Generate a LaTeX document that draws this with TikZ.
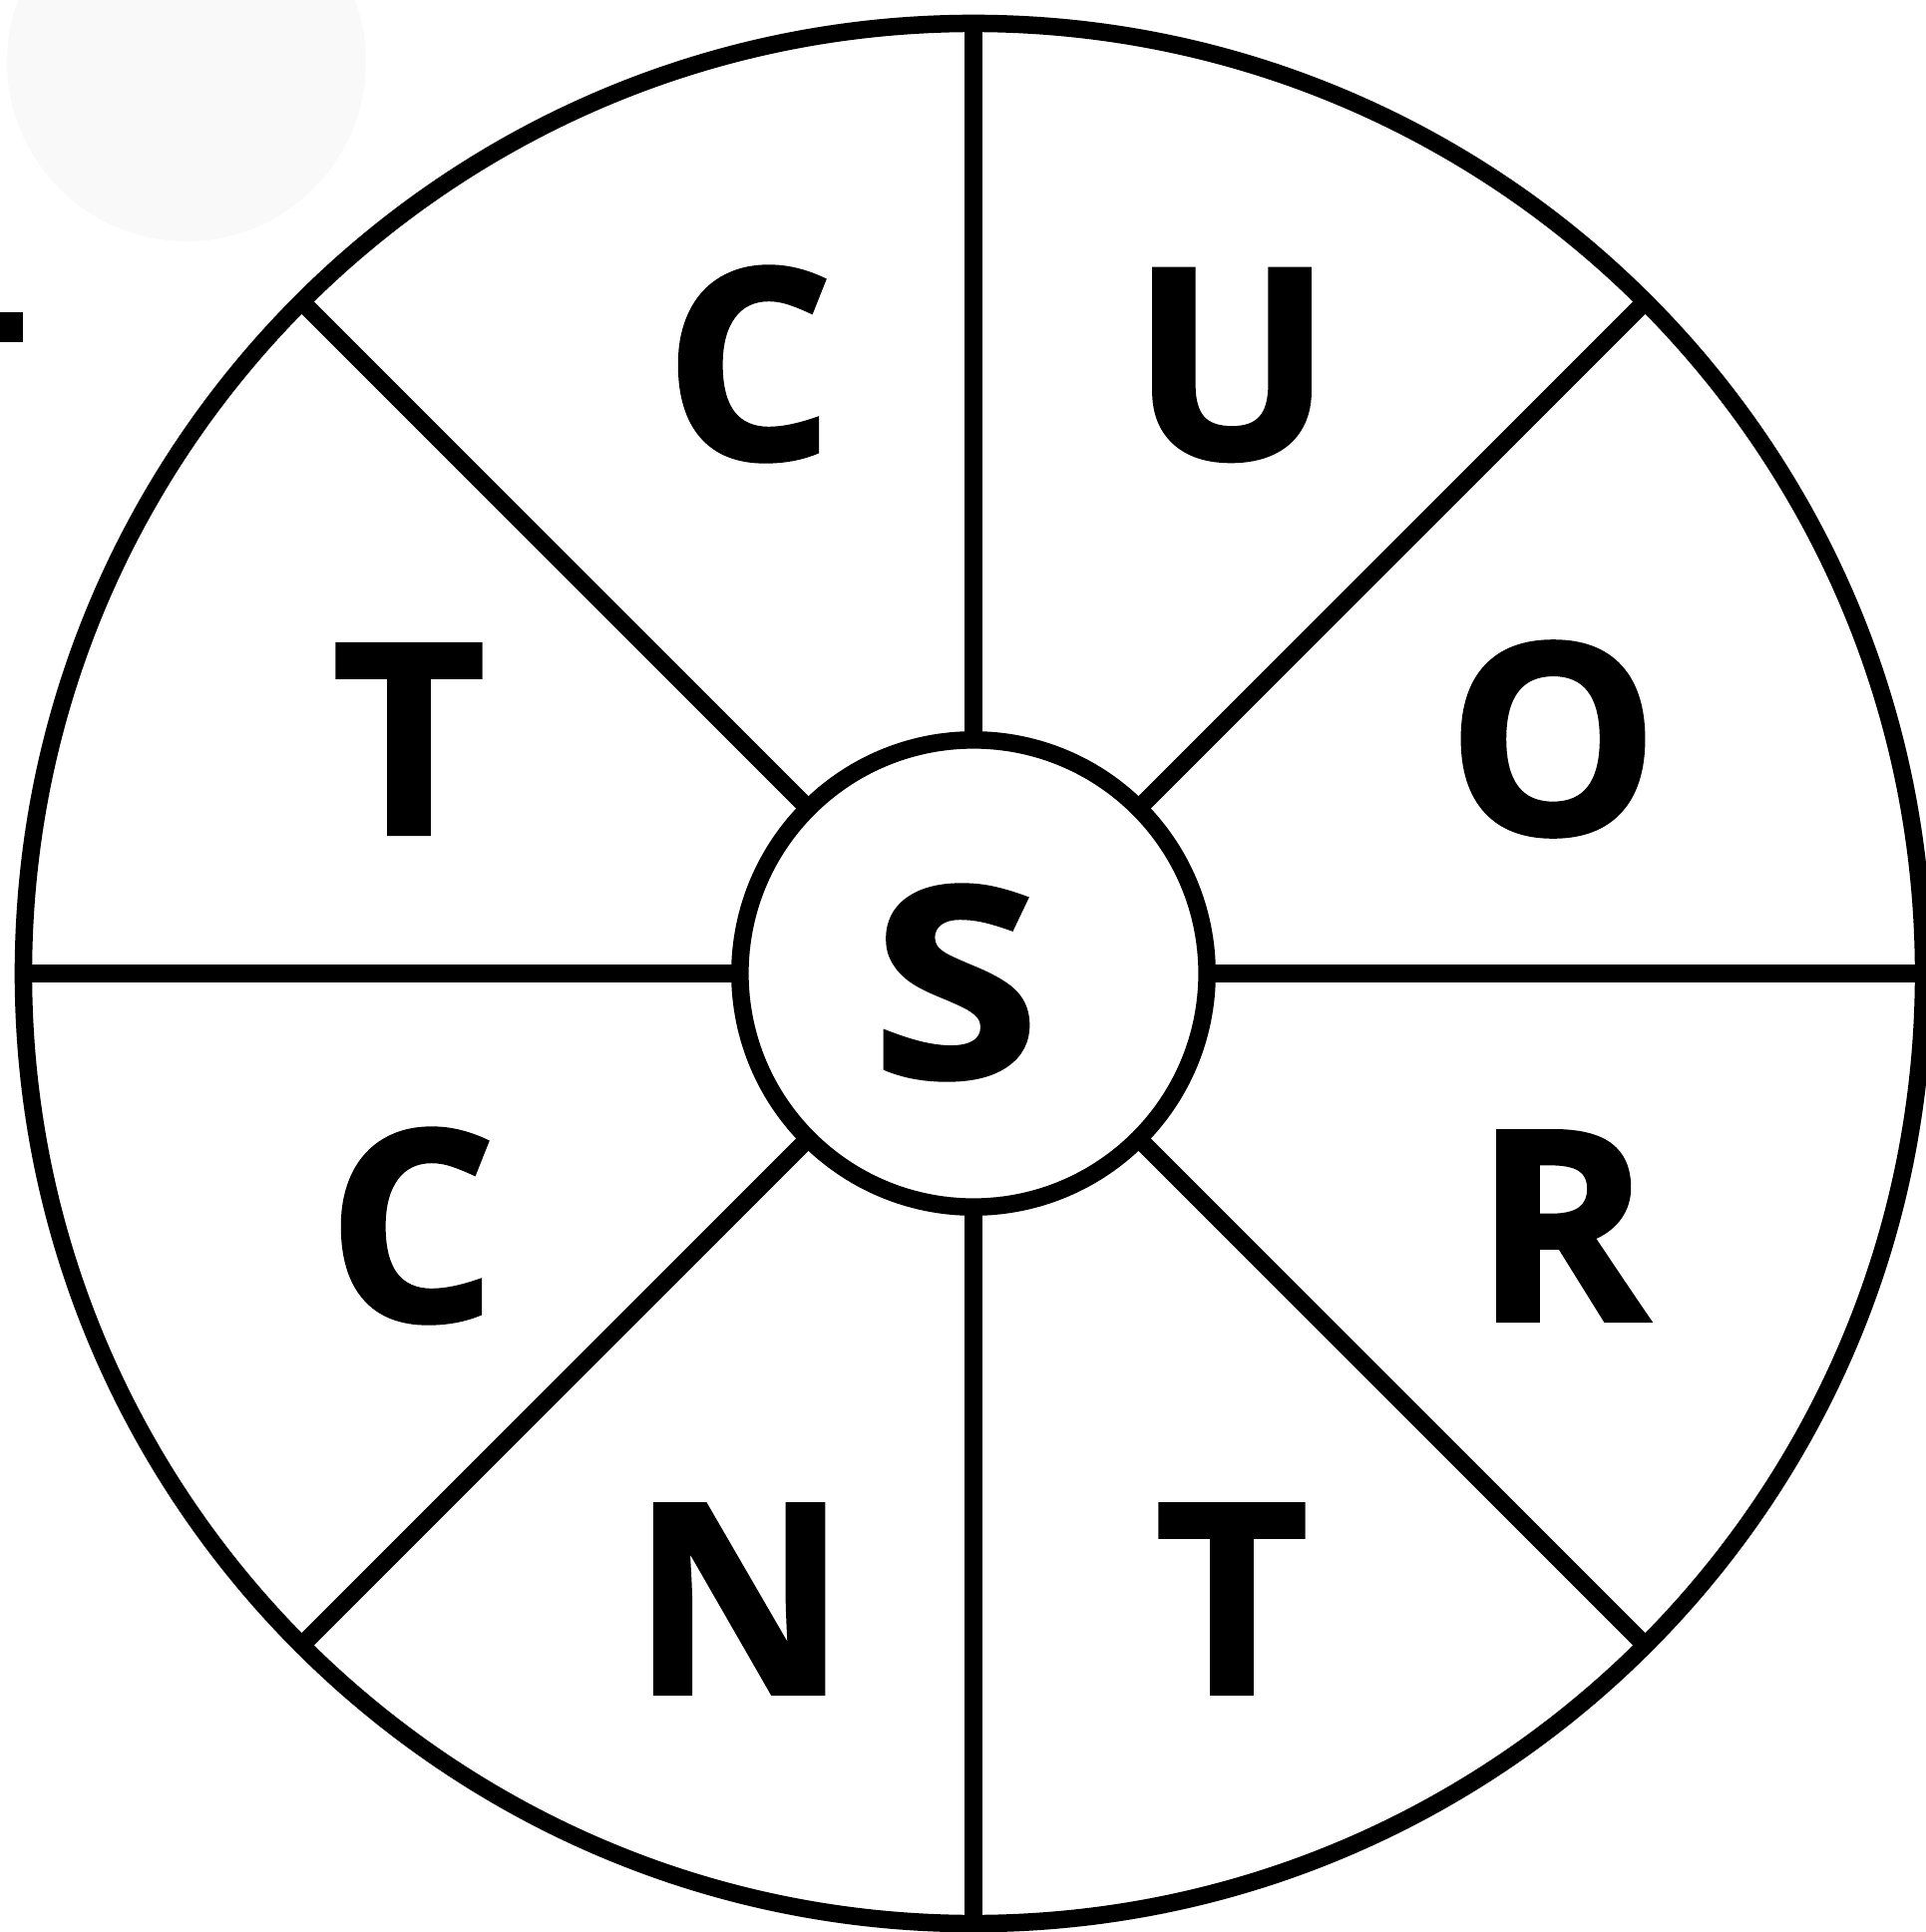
\documentclass[tikz,border=0pt]{standalone}
\usepackage{fontspec}
\setmainfont{Open Sans}[BoldFeatures={FakeBold=1.2}]
\begin{document}
\begin{tikzpicture}[x=0.01cm,y=-0.01cm,
  ring/.style={draw=black,line width=0.175cm,circle,inner sep=0pt,outer sep=0pt},
  spoke/.style={draw=black,line width=0.175cm},
  letter/.style={inner sep=0pt,outer sep=0pt,anchor=center,font=\fontsize{76}{76}\selectfont\bfseries}]
\useasboundingbox (0,0) rectangle (1931,1937);
\fill[black!2.5] (187,62) circle[radius=180];
\fill[black] (0,313) rectangle (23,343);
\node[ring,minimum size=19.04cm] (outer) at (976,976) {};
\node[ring,minimum size=4.68cm,fill=white] (inner) at (976,976) {};
\foreach \a in {0,45,...,315} {\draw[spoke] (inner.\a) -- (outer.\a);}
\node[letter] (c1) at (751,365) {C};
\node[letter] (u) at (1235,366) {U};
\node[letter] (t1) at (410,741) {T};
\node[letter] (o) at (1557,741) {O};
\node[letter,xscale=1.15] (s) at (958,985) {S};
\node[letter] (c2) at (413,1229) {C};
\node[letter] (r) at (1566,1229) {R};
\node[letter] (n) at (741,1603) {N};
\node[letter] (t2) at (1235,1603) {T};
\end{tikzpicture}
\end{document}
